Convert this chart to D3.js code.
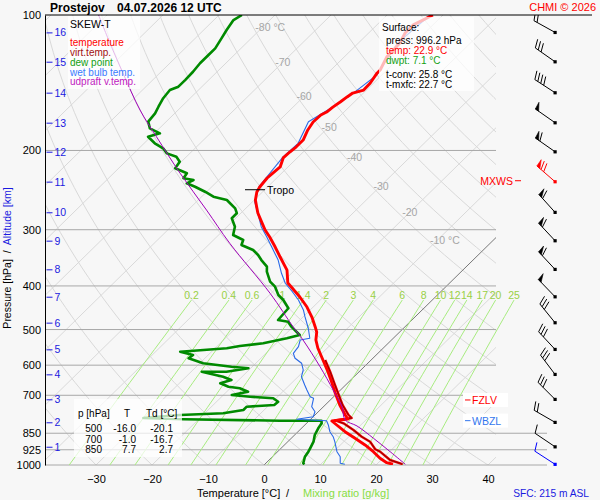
<!DOCTYPE html>
<html><head><meta charset="utf-8">
<script src="https://cdn.jsdelivr.net/npm/d3@7"></script>
<style>
body{margin:0;background:#f7f7f7;}
svg{display:block;font-family:"Liberation Sans",Arial,Helvetica,sans-serif;}
</style></head><body>
<svg id="c" width="600" height="500"></svg>
<script>
// ---------------- DATA ----------------
const pressureTicks = [100,200,300,400,500,600,700,850,925,1000];
const tempTicks = [-30,-20,-10,0,10,20,30,40];
const isothermValues = [-130,-120,-110,-100,-90,-80,-70,-60,-50,-40,-30,-20,-10,0,10,20,30,40];
const isothermLabels = ["-80 °C","-70","-60","-50","-40","-30","-20","-10 °C"];
const isothermLabelT = [-80,-70,-60,-50,-40,-30,-20,-10];
const isothermLabelP = [106.3,127.4,151.7,177.1,206.5,239.5,274.4,316.2];
const dryAdiabatTheta = [-40,-30,-20,-10,0,10,20,30,40,50,60,70,80,90,100,110,120,130,140,150,160,170,180,190,200];
const mixingRatios = [0.2,0.4,0.6,1,1.4,2,3,4,6,8,10,12,14,17,20,25];
const mixingLabels = ["0.2","0.4","0.6","1","1.4","2","3","4","6","8","10","12","14","17","20","25"];

const tempP = [100,105.2,109.6,115.4,124.0,132.5,134.5,141.6,146.8,149.1,152.1,156.1,160.2,164.3,166.8,172.9,180.1,189.6,196.5,201.6,207.8,217.6,224.5,230.3,241.1,247.4,257.7,267.1,275.4,290.0,300.5,311.5,327.8,345.0,368.8,394.0,404.3,423.3,445.6,469.0,493.4,506.5,527.5,549.5,584.3,621.4,657.2,691.8,735.6,774.3,790.3,798.4,814.9,843.3,872.4,902.7,934.1,966.3,988.3,996.2];
const tempT = [-51.8,-53.5,-53.5,-52.6,-52.4,-51.2,-51.2,-50.6,-50.5,-51.9,-52.2,-52.5,-52.9,-53.1,-53.6,-53.7,-53.2,-52.2,-52.2,-52.4,-52.5,-51.4,-51.6,-51.7,-51.4,-51.0,-49.8,-48.3,-47.0,-44.4,-42.6,-40.5,-37.7,-35.0,-31.4,-28.9,-27.2,-24.2,-21.1,-18.4,-16.0,-14.8,-13.5,-11.7,-8.6,-5.5,-2.8,-0.4,2.6,5.4,6.6,4.1,5.7,8.4,11.4,14.4,17.1,19.5,21.5,22.9];

const virtP = [584.3,621.4,657.2,691.8,735.6,774.3,786.3,796.0,807.8,836.0,865.2,887.6,922.7,934.1,974.7,991.3,996.2];
const virtT = [-8.2,-5.1,-2.4,0.1,3.1,6.0,7.1,4.6,6.6,9.6,12.3,14.7,17.0,18.3,21.6,24.0,24.6];

const dewP = [100,102.6,108.0,112.7,118.6,122.7,128.0,133.7,139.5,144.3,146.8,153.1,159.9,165.4,172.6,178.6,183.2,186.4,192.8,197.8,203.0,206.5,211.8,219.1,224.8,230.6,232.6,236.6,240.8,247.0,253.4,257.7,268.9,275.8,282.9,295.4,308.3,316.2,324.4,332.9,341.5,350.4,362.5,371.9,391.4,401.6,419.0,429.9,448.4,476.2,480.3,492.8,514.2,522.9,536.5,543.9,550.4,560.0,569.6,579.2,594.3,604.7,609.7,620.4,620.4,636.4,647.3,658.2,669.9,675.4,687.2,699.0,705.0,710.8,723.4,735.6,742.0,754.7,767.6,774.3,786.3,791.4,797.2,797.2,807.8,828.7,857.7,887.6,918.1,934.1,958.5,991.3,996.2];
const dewT = [-85.9,-86.5,-85.9,-85.3,-84.6,-84.6,-84.6,-84.3,-84.2,-84.2,-85.1,-84.8,-84.1,-83.5,-83.2,-81.7,-79.0,-80.5,-78.1,-75.7,-74.1,-71.8,-70.3,-69.9,-66.9,-66.6,-64.5,-65.1,-63.0,-60.3,-57.9,-54.9,-51.9,-50.7,-50.7,-48.6,-47.4,-44.7,-44.1,-41.1,-39.3,-37.8,-35.6,-34.7,-32.3,-30.5,-28.4,-26.6,-24.2,-23.9,-21.8,-20.3,-17.3,-19.0,-22.3,-26.0,-27.9,-35.6,-32.7,-32.9,-29.4,-23.7,-20.4,-23.7,-28.1,-23.4,-21.3,-22.7,-20.6,-18.3,-16.2,-18.5,-14.9,-10.5,-9.0,-9.1,-13.7,-13.7,-16.7,-24.1,-30.1,-22.7,-5.2,2.2,2.7,3.0,3.6,4.6,5.2,5.5,5.8,6.7,7.1];

const wetP = [100,115.4,136.0,149.3,159.9,172.6,192.8,206.5,240.8,260.0,295.4,311.0,327.3,350.4,374.9,394.6,412.0,429.9,452.4,468.2,496.7,522.9,527.5,545.8,564.7,579.2,594.3,615.0,636.4,664.1,681.3,705.0,710.8,742.0,761.4,781.1,791.4,797.2,814.9,843.3,865.2,887.6,934.1,958.5,991.3,996.2];
const wetT = [-52.3,-53.0,-50.9,-51.8,-52.9,-54.6,-52.5,-52.7,-51.6,-49.6,-43.9,-41.1,-38.4,-34.8,-31.8,-29.3,-26.5,-23.9,-21.2,-19.7,-17.0,-14.9,-16.3,-15.4,-15.1,-13.9,-11.8,-10.3,-9.4,-7.3,-6.0,-4.2,-3.3,-2.1,-0.6,0.0,-2.5,3.1,4.2,5.7,7.2,8.4,10.6,12.1,13.3,14.3];

const parcelP = [100,115.6,134.8,162.6,186.4,224.8,271.3,321.6,415.3,492.8,527.5,604.7,681.3,742.0,794.3,819.0,872.4,934.1,996.2];
const parcelT = [-111.5,-104.3,-96.5,-86.8,-79.0,-68.1,-56.7,-46.5,-30.2,-20.0,-15.8,-7.9,-1.3,3.3,6.3,9.5,14.7,20.1,25.1];

const altKm = [1,2,3,4,5,6,7,8,9,10,11,12,13,14,15,16];
const altP = [910.8,803.7,714.5,628.8,553.3,482.7,422.7,367.4,317.3,274.4,234.6,201.3,173.5,148.8,127.0,109.3];

const windP   = [996.2,910.8,803.7,714.5,628.8,553.3,482.7,422.7,367.4,317.3,274.4,234.6,201.3,173.5,148.8,127.0,109.3];
const windDir = [303,304,300,315,323,317,321,316,317,317,318,311,305,305,303,305,299];
const windKt  = [10,10,20,30,30,30,30,50,60,60,60,70,60,50,40,30,20];
const maxWindIndex = 11;

const tableP = ["500","700","850"];
const tableT = ["-16.0","-1.0","7.7"];
const tableTd = ["-20.1","-16.7","2.7"];

const surfaceLines = ["press: 996.2 hPa","temp: 22.9 °C","dwpt: 7.1 °C","t-conv: 25.8 °C","t-mxfc: 22.7 °C"];
const legendItems = ["temperature","virt.temp.","dew point","wet bulb temp.","udpraft v.temp."];
const legendColors = ["#ff0000","#a01010","#12a012","#3a7bff","#c020c0"];
const tropoP = 244.5;
const fzlvP = 717.0, wbzlP = 797.0, mxwsP = 233.5;

// ---------------- SCALES ----------------
const svg = d3.select("#c");
svg.append("rect").attr("width",600).attr("height",500).attr("fill","#f7f7f7");
const y = d3.scaleLog().domain([1000,100]).range([465,15]);
const xT = d3.scaleLinear().domain([-30,40]).range([96,488]);
const SKEW = 1.02;
const X = (T,p) => xT(T) + SKEW*(y(1000)-y(p));
const zip = (P,T) => P.map((p,i)=>[p,T[i]]);
const line = d3.line().x(d=>X(d[1],d[0])).y(d=>y(d[0]));
const FS = "10.5px", FSB = "10px";

svg.append("clipPath").attr("id","plot").append("rect").attr("x",45).attr("y",15).attr("width",451).attr("height",450);
svg.append("clipPath").attr("id","plotL").append("rect").attr("x",45).attr("y",15).attr("width",555).attr("height",450);
svg.append("clipPath").attr("id","barbs").append("rect").attr("x",500).attr("y",15).attr("width",100).attr("height",480);

// ---------------- GRID ----------------
const grid = svg.append("g").attr("clip-path","url(#plot)");
const logPs = d3.range(0,61).map(i=>1000*Math.pow(10,-i/60));
dryAdiabatTheta.forEach(th=>{
  const pts = logPs.map(p=>[p,(th+273.15)*Math.pow(p/1000,0.2857)-273.15]);
  grid.append("path").attr("d",line(pts)).attr("fill","none").attr("stroke","#d9d9d9").attr("stroke-width",1);
});
isothermValues.forEach(t=>{
  grid.append("path").attr("d",line([[1000,t],[100,t]])).attr("fill","none")
    .attr("stroke",t===0?"#777":"#d9d9d9").attr("stroke-width",1);
});
pressureTicks.filter(p=>p>100).forEach(p=>{
  svg.append("line").attr("x1",45).attr("x2",p>=850?547:496).attr("y1",y(p)).attr("y2",y(p))
    .attr("stroke","#a8a8a8").attr("stroke-width",1);
});
function tdFromW(w,p){const e=w*p/(622+w); const l=Math.log(e/6.112); return 243.5*l/(17.67-l);}
const mixG = svg.append("g").attr("clip-path","url(#plotL)");
const mixPs = d3.range(0,21).map(i=>1000*Math.pow(430/1000,i/20));
mixingRatios.forEach((w,i)=>{
  mixG.append("path").attr("d",line(mixPs.map(p=>[p,tdFromW(w,p)]))).attr("fill","none")
    .attr("stroke","#a8ec80").attr("stroke-width",1);
  svg.append("text").attr("x",X(tdFromW(w,430),430)).attr("y",y(430)-1.5).attr("text-anchor","middle")
    .attr("font-size",FS).attr("fill","#99d045").text(mixingLabels[i]);
});
isothermLabels.forEach((s,i)=>{
  svg.append("text").attr("x",X(isothermLabelT[i],isothermLabelP[i])-7.5).attr("y",y(isothermLabelP[i])+4)
    .attr("font-size",FS).attr("fill","#a6a6a6").text(s);
});

// ---------------- PROFILES ----------------
const prof = svg.append("g").attr("clip-path","url(#plot)");
const addPath=(data,color,w)=>prof.append("path").attr("d",line(data))
  .attr("fill","none").attr("stroke",color).attr("stroke-width",w).attr("stroke-linejoin","round");
addPath(zip(dewP,dewT),"#008a00",2.6);
addPath(zip(wetP,wetT),"#2a6ae8",1.1);
addPath(zip(virtP,virtT),"#ee0000",2.4);
addPath(zip(virtP,virtT),"#900000",1);
addPath(zip(tempP,tempT),"#ff0000",2.9);
prof.append("path").attr("d",d3.line().x(d=>X(d[1],d[0])).y(d=>y(d[0])).curve(d3.curveCatmullRom)(zip(parcelP,parcelT)))
  .attr("fill","none").attr("stroke","#a000b8").attr("stroke-width",1);

// ---------------- AXES ----------------
const axL = svg.append("g").attr("transform","translate(45,0)")
  .call(d3.axisLeft(y).tickValues(pressureTicks).tickFormat(d3.format("d")).tickSize(0).tickSizeOuter(0).tickPadding(4));
axL.select(".domain").attr("stroke","#000");
axL.selectAll("text").attr("font-size","11px").attr("fill","#000").attr("font-family",null);
const axA = svg.append("g").attr("transform","translate(46.5,0)")
  .call(d3.axisRight(y).tickValues(altP).tickFormat((d,i)=>altKm[i]).tickSize(6).tickPadding(2));
axA.select(".domain").remove();
axA.selectAll("line").attr("stroke","#1a1ae0");
axA.selectAll("text").attr("font-size",FS).attr("fill","#1a1ae0").attr("font-family",null);
const axB = svg.append("g").attr("transform","translate(0,465)")
  .call(d3.axisBottom(xT).tickValues(tempTicks).tickSize(0).tickPadding(10));
axB.select(".domain").remove();
axB.selectAll("text").attr("font-size","11px").attr("fill","#000").attr("font-family",null);
svg.append("line").attr("x1",45).attr("x2",592).attr("y1",15).attr("y2",15).attr("stroke","#000");

// ---------------- BOXES ----------------
svg.append("rect").attr("x",68).attr("y",16).attr("width",72).attr("height",73).attr("fill","#fff").attr("opacity",0.72);
svg.append("rect").attr("x",379).attr("y",17).attr("width",95).attr("height",74).attr("fill","#fff").attr("opacity",0.72);
svg.append("rect").attr("x",74).attr("y",399).attr("width",108).attr("height",58).attr("fill","#fff").attr("opacity",0.72);

svg.append("text").attr("x",70).attr("y",28).attr("font-size","10.5px").text("SKEW-T");
legendItems.forEach((s,i)=>svg.append("text").attr("x",70).attr("y",46+i*9.85).attr("font-size",FSB).attr("fill",legendColors[i]).text(s));
svg.append("text").attr("x",382).attr("y",31).attr("font-size",FSB).text("Surface:");
const sfcY=[44,54,64,78,88], sfcC=["#000","#ff0000","#12a012","#000","#000"];
surfaceLines.forEach((s,i)=>svg.append("text").attr("x",386).attr("y",sfcY[i]).attr("font-size",FSB).attr("fill",sfcC[i]).text(s));
const tb = svg.append("g").attr("font-size",FSB);
tb.append("text").attr("x",78).attr("y",417).text("p [hPa]");
tb.append("text").attr("x",127).attr("y",417).attr("text-anchor","middle").text("T");
tb.append("text").attr("x",146).attr("y",417).text("Td [°C]");
tableP.forEach((p,i)=>{
  const yy=432+i*10.5;
  tb.append("text").attr("x",102).attr("y",yy).attr("text-anchor","end").text(p);
  tb.append("text").attr("x",136).attr("y",yy).attr("text-anchor","end").text(tableT[i]);
  tb.append("text").attr("x",173).attr("y",yy).attr("text-anchor","end").text(tableTd[i]);
});

svg.append("line").attr("x1",245).attr("x2",265).attr("y1",y(tropoP)).attr("y2",y(tropoP)).attr("stroke","#000");
svg.append("text").attr("x",267).attr("y",y(tropoP)+4).attr("font-size",FS).text("Tropo");

[[fzlvP,"FZLV","#ff0000"],[wbzlP,"WBZL","#3377ee"]].forEach(([p,s,c])=>{
  const yy=y(p);
  svg.append("rect").attr("x",463).attr("y",yy-7).attr("width",45).attr("height",14).attr("fill","#fff");
  svg.append("line").attr("x1",465).attr("x2",470.5).attr("y1",yy).attr("y2",yy).attr("stroke",c);
  svg.append("text").attr("x",472).attr("y",yy+4).attr("font-size",FS).attr("fill",c).text(s);
});
svg.append("text").attr("x",513).attr("y",y(mxwsP)+4).attr("text-anchor","end").attr("font-size",FS).attr("fill","#ff0000").text("MXWS");
svg.append("line").attr("x1",515).attr("x2",521).attr("y1",y(mxwsP)).attr("y2",y(mxwsP)).attr("stroke","#ff0000");

// ---------------- WIND BARBS ----------------
const bg = svg.append("g").attr("clip-path","url(#barbs)");
function barb(x0,y0,dir,kt,color){
  const r=dir*Math.PI/180, ux=Math.sin(r), uy=-Math.cos(r);
  const bx=-uy, by=ux;
  const L=24, ex=x0+L*ux, ey=y0+L*uy;
  bg.append("line").attr("x1",x0).attr("y1",y0).attr("x2",ex).attr("y2",ey).attr("stroke",color).attr("stroke-width",1);
  bg.append("rect").attr("x",x0-1.5).attr("y",y0-1.5).attr("width",3.2).attr("height",3.2).attr("fill",color);
  let rem=Math.round(kt/5)*5, d=0;
  const c=0.94, s=0.34;
  while(rem>=50){
    const px=ex-d*ux, py=ey-d*uy;
    const ax=px+8*(bx*c+ux*s*0.3), ay=py+8*(by*c+uy*s*0.3);
    const qx=ex-(d+4)*ux, qy=ey-(d+4)*uy;
    bg.append("path").attr("d",`M${px},${py}L${ax},${ay}L${qx},${qy}Z`).attr("fill",color).attr("stroke",color).attr("stroke-width",0.6);
    d+=5.5; rem-=50;
  }
  while(rem>=10){
    const px=ex-d*ux, py=ey-d*uy;
    bg.append("line").attr("x1",px).attr("y1",py).attr("x2",px+9*(bx*c+ux*s)).attr("y2",py+9*(by*c+uy*s)).attr("stroke",color);
    d+=3.5; rem-=10;
  }
  if(rem>=5){
    if(d===0) d=3.5;
    const px=ex-d*ux, py=ey-d*uy;
    bg.append("line").attr("x1",px).attr("y1",py).attr("x2",px+5*(bx*c+ux*s)).attr("y2",py+5*(by*c+uy*s)).attr("stroke",color);
  }
}
windP.forEach((p,i)=>{
  const col = i===0?"#0000ff":(i===maxWindIndex?"#ff0000":"#000");
  barb(555,y(p),windDir[i],windKt[i],col);
});

// ---------------- TITLES ----------------
svg.append("text").attr("x",50).attr("y",12).attr("font-size","12px").attr("font-weight","bold").text("Prostejov");
svg.append("text").attr("x",117).attr("y",12).attr("font-size","12px").attr("font-weight","bold").text("04.07.2026 12 UTC");
svg.append("text").attr("x",596).attr("y",11).attr("text-anchor","end").attr("font-size","11px").attr("fill","#ff0000").text("CHMI © 2026");
svg.append("text").attr("x",197).attr("y",497).attr("font-size","11px").text("Temperature [°C]");
svg.append("text").attr("x",286).attr("y",497).attr("font-size","11px").text("/");
svg.append("text").attr("x",303).attr("y",497).attr("font-size","11px").attr("fill","#88dd44").text("Mixing ratio [g/kg]");
svg.append("text").attr("x",589).attr("y",497).attr("text-anchor","end").attr("font-size","10.2px").attr("fill","#1a1ae0").text("SFC: 215 m ASL");
const yl = svg.append("text").attr("transform","translate(11,258) rotate(-90)").attr("text-anchor","middle").attr("font-size",FS);
yl.append("tspan").text("Pressure [hPa]");
yl.append("tspan").text("  /  ").attr("xml:space","preserve");
yl.append("tspan").attr("fill","#1a1ae0").text("Altitude [km]");
</script>
</body></html>
